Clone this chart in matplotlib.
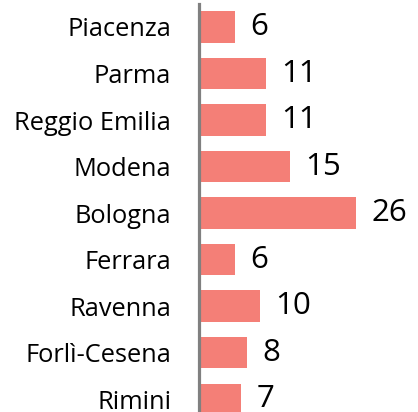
import matplotlib
matplotlib.use('Agg')
import matplotlib.pyplot as plt

# province e valori
province = ['Piacenza', 'Parma', 'Reggio Emilia', 'Modena', 'Bologna',
            'Ferrara', 'Ravenna', 'Forlì-Cesena', 'Rimini']
valori = [6, 11, 11, 15, 26, 6, 10, 8, 7]

plt.rcParams['font.family'] = ['Open Sans', 'DejaVu Sans']

fig = plt.figure(figsize=(4.18, 4.12), dpi=100)
ax = fig.add_axes([0.476, -0.0249, 0.507, 1.0158])

y = range(len(province))
bars = ax.barh(y, valori, height=0.667, color='#F47F77', zorder=2)

for b, v in zip(bars, valori):
    ax.annotate(str(v), (b.get_width(), b.get_y() + b.get_height() / 2),
                xytext=(11, 0), textcoords='offset points',
                va='center', ha='left', fontsize=22.5, color='black')

ax.set_yticks(list(y))
ax.set_yticklabels(province, fontsize=18.3)
ax.set_ylim(len(province) - 0.5, -0.5)
ax.set_xlim(0, 35)
ax.tick_params(axis='y', length=0, pad=20)
ax.set_xticks([])

for s in ['top', 'right', 'bottom']:
    ax.spines[s].set_visible(False)
ax.spines['left'].set_color('#808080')
ax.spines['left'].set_linewidth(2.3)
ax.spines['left'].set_zorder(3)

fig.savefig('out.png', dpi=100)
